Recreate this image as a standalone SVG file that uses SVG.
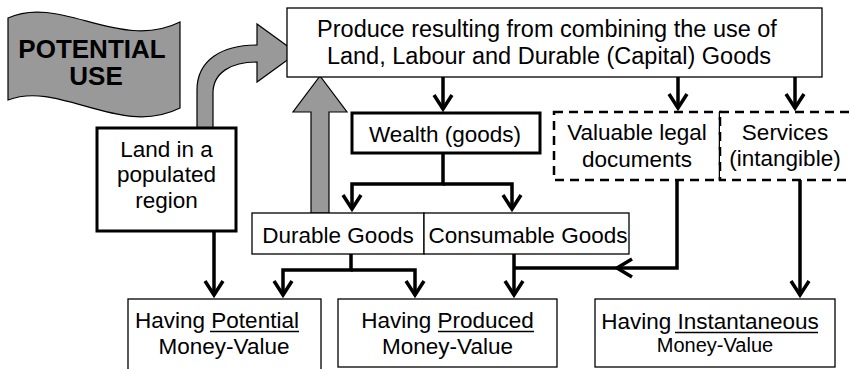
<svg xmlns="http://www.w3.org/2000/svg" width="850" height="369" viewBox="0 0 850 369">
<defs>
<marker id="ah" viewBox="-18 -12 22 24" markerWidth="22" markerHeight="24" refX="0" refY="0" orient="auto" markerUnits="userSpaceOnUse">
<path d="M-14,-9 L0,0 L-14,9" fill="none" stroke="#000" stroke-width="3.5"/>
</marker>
</defs>
<style>
text{font-family:"Liberation Sans",Arial,sans-serif;font-size:22.5px;fill:#000;text-anchor:middle}
.box{fill:#fff;stroke:#000;stroke-width:1.3}
.thick{fill:#fff;stroke:#000;stroke-width:3}
.dash{fill:#fff;stroke:#000;stroke-width:2.5;stroke-dasharray:9 6}
.con{fill:none;stroke:#000;stroke-width:3.5}
.arr{marker-end:url(#ah)}
.gray{fill:#999;stroke:#000;stroke-width:1.2}
.ul{stroke:#000;stroke-width:1.5}
</style>
<rect width="850" height="369" fill="#fff"/>

<g id="potential-use">
<path class="gray" d="M8,18 C60,-6 120,52 180,22 L180,108 C120,138 60,80 8,100 Z"/>
<text x="92" y="58" style="font-weight:bold;font-size:26px">POTENTIAL</text>
<text x="96" y="85" style="font-weight:bold;font-size:26px">USE</text>
</g>

<g id="connectors">
<path class="gray" d="M197,129 L197,90 C197,60 222,45 257,45 L257,24 L297,53 L257,82 L257,62 C232,62 213,72 213,93 L213,129 Z"/>
<path class="gray" d="M311,213 V112 H293 L320,76 L347,112 H329 V213 Z"/>
<path class="con arr" d="M443,77 V109"/>
<path class="con arr" d="M678,77 V108"/>
<path class="con arr" d="M795,77 V108"/>
<path class="con arr" d="M443,153 V184 H352 V209"/>
<path class="con arr" d="M443,184 H512 V209"/>
<path class="con arr" d="M214,231 V295"/>
<path class="con arr" d="M351,254 V270 H283 V295"/>
<path class="con arr" d="M351,270 H415 V295"/>
<path class="con arr" d="M514,254 V295"/>
<path class="con" d="M677,180 V268 H514"/>
<path class="con" d="M632,259 L617,268 L632,277"/>
<path class="con arr" d="M800,179 V295"/>
</g>

<g id="produce">
<rect class="box" x="287" y="8" width="535" height="69"/>
<text x="547" y="37" style="font-size:23.5px">Produce resulting from combining the use of</text>
<text x="549" y="64" style="font-size:23.5px">Land, Labour and Durable (Capital) Goods</text>
</g>

<g id="wealth">
<rect class="thick" x="352" y="113" width="188" height="40"/>
<text x="445" y="142">Wealth (goods)</text>
</g>

<g id="legal-docs">
<rect class="dash" x="554" y="112" width="166" height="68"/>
<text x="637" y="140">Valuable legal</text>
<text x="637" y="167">documents</text>
</g>

<g id="services">
<rect class="dash" x="720" y="112" width="134" height="68"/>
<text x="785" y="140">Services</text>
<text x="785" y="166">(intangible)</text>
</g>

<g id="land">
<rect class="thick" x="97" y="128" width="139" height="103"/>
<text x="166.5" y="157">Land in a</text>
<text x="166.5" y="182">populated</text>
<text x="166.5" y="208">region</text>
</g>

<g id="durable">
<rect class="box" x="252" y="213" width="172" height="41"/>
<text x="338" y="243">Durable Goods</text>
</g>

<g id="consumable">
<rect class="box" x="424" y="213" width="205" height="41"/>
<text x="528" y="243">Consumable Goods</text>
</g>

<g id="potential-value">
<rect class="box" x="128" y="299" width="193" height="74"/>
<text x="217" y="328">Having Potential</text>
<line class="ul" x1="210" y1="331.5" x2="299" y2="331.5"/>
<text x="224" y="354">Money-Value</text>
</g>

<g id="produced-value">
<rect class="box" x="338" y="299" width="219" height="68"/>
<text x="447.5" y="328">Having Produced</text>
<line class="ul" x1="438" y1="331.5" x2="534" y2="331.5"/>
<text x="447.5" y="354">Money-Value</text>
</g>

<g id="instantaneous-value">
<rect class="box" x="595" y="299" width="240" height="68"/>
<text x="710" y="329">Having Instantaneous</text>
<line class="ul" x1="675" y1="332.5" x2="818" y2="332.5"/>
<text x="715" y="352" style="font-size:20px">Money-Value</text>
</g>
</svg>
